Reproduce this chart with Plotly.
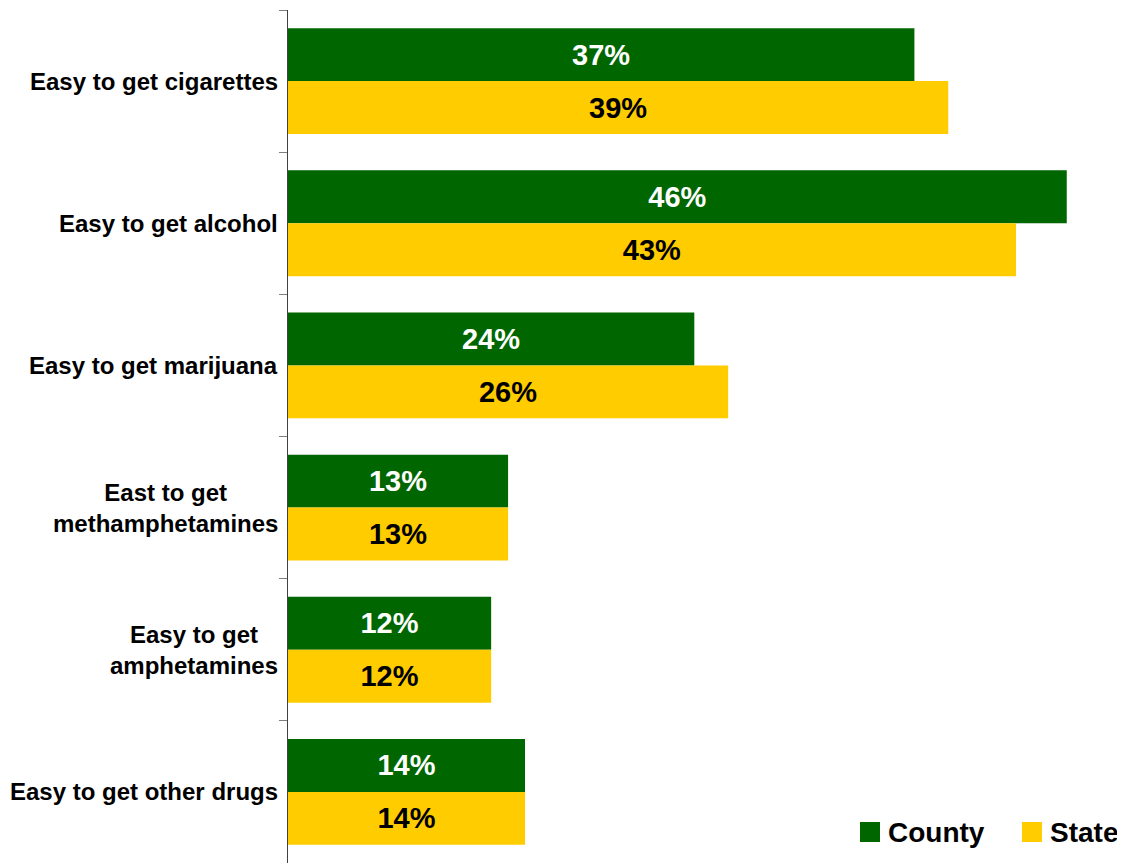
import plotly.graph_objects as go

categories = [
    "Easy to get cigarettes",
    "Easy to get alcohol",
    "Easy to get marijuana",
    "East to get<br>methamphetamines",
    "Easy to get<br>amphetamines",
    "Easy to get other drugs",
]
county = [37, 46, 24, 13, 12, 14]
state = [39, 43, 26, 13, 12, 14]
series_names = ["County", "State"]
series_colors = ["#006600", "#FFCC00"]
text_colors = ["white", "black"]

FONT = "Liberation Sans, Arial, sans-serif"

fig = go.Figure()
for name, vals, col, tcol in zip(series_names, [county, state], series_colors, text_colors):
    fig.add_trace(go.Bar(
        y=categories, x=vals, name=name, orientation="h",
        marker=dict(color=col, line=dict(width=0)),
        texttemplate="%{x}%", textposition="inside", insidetextanchor="middle",
        textangle=0, constraintext="none", showlegend=False,
        textfont=dict(family=FONT, size=29, color=tcol, weight="bold"),
    ))

for c in categories:
    fig.add_annotation(
        x=-0.01, xref="paper", y=c, yref="y", text=c, showarrow=False,
        xanchor="right", yanchor="middle", align="center",
        font=dict(family=FONT, size=24, color="black", weight="bold"),
    )

# custom legend (larger square swatches like the reference)
legend_x = [0.6834, 0.8769]
for name, col, lx in zip(series_names, series_colors, legend_x):
    fig.add_shape(type="rect", xref="paper", yref="paper",
                  x0=lx, x1=lx + 0.0239, y0=0.0246, y1=0.0481,
                  fillcolor=col, line=dict(width=0))
    fig.add_annotation(x=lx + 0.0311, xref="paper", y=0.0363, yref="paper",
                       text=name, showarrow=False, xanchor="left", yanchor="middle",
                       font=dict(family=FONT, size=28, color="black", weight="bold"))

fig.update_layout(
    width=1117, height=855,
    margin=dict(l=280, r=0, t=2, b=0),
    paper_bgcolor="white", plot_bgcolor="white",
    barmode="group", bargap=0.255, bargroupgap=0,
    showlegend=False,
    xaxis=dict(range=[0, 49.44], visible=False, fixedrange=True),
    yaxis=dict(
        categoryorder="array", categoryarray=categories, autorange="reversed",
        showticklabels=False, ticks="outside", tickson="boundaries",
        ticklen=8, tickcolor="#808080", tickwidth=1,
        showline=True, linecolor="#404040", linewidth=1,
        showgrid=False, zeroline=False,
    ),
)

fig.write_html("out.html")
